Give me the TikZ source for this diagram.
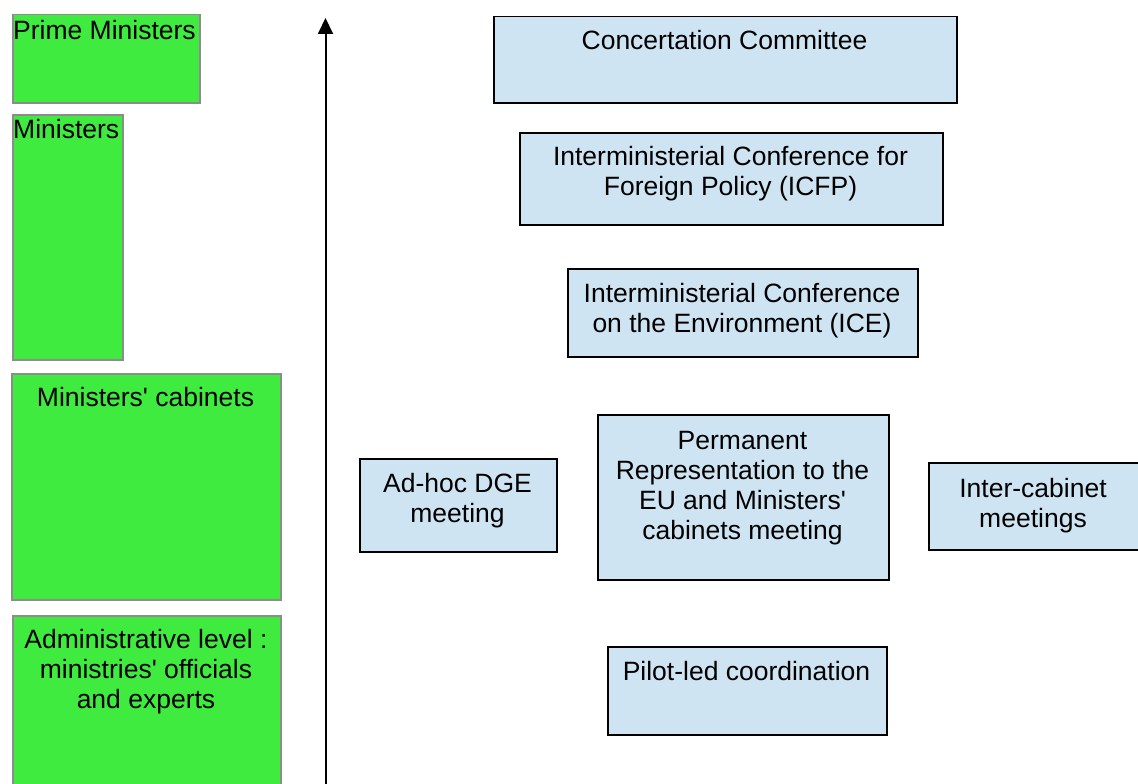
\documentclass[tikz,border=0pt]{standalone}
\usepackage{fontspec}
\setmainfont{Liberation Sans}
\usetikzlibrary{arrows.meta}
\definecolor{lvgreen}{RGB}{62,235,62}
\definecolor{lvgreenline}{RGB}{140,140,140}
\definecolor{lvblue}{RGB}{207,228,242}
\tikzset{
  gbox/.style={draw=lvgreenline, line width=1.5pt, fill=lvgreen, rectangle, inner sep=0pt, anchor=north west},
  bbox/.style={draw=black, line width=1.5pt, fill=lvblue, rectangle, inner sep=0pt, anchor=north west},
  txt/.style={inner sep=0pt, align=center, font=\fontsize{26.5}{30}\selectfont, anchor=base},
  ltxt/.style={inner sep=0pt, font=\fontsize{26.5}{30}\selectfont, anchor=base west},
  axis/.style={line width=2pt, -{Triangle[width=15pt,length=16pt]}}
}
\newcommand{\ap}{\textquotesingle}
\begin{document}
\begin{tikzpicture}[x=1pt,y=-1pt]
\useasboundingbox (0,0) rectangle (1138,784);
% green level boxes
\node[gbox, minimum width=187pt, minimum height=88pt] (pm) at (12,14) {};
\node[gbox, minimum width=110pt, minimum height=245pt] (mi) at (12,114) {};
\node[gbox, minimum width=269pt, minimum height=226pt] (mc) at (11,373) {};
\node[gbox, minimum width=268pt, minimum height=200pt] (ad) at (12,615) {};
\node[ltxt] (tpm) at (13,40) {Prime Ministers};
\node[ltxt] (tmi) at (13,138) {Ministers};
\node[txt] (tmc) at (145.5,406) {Ministers\ap{} cabinets};
\node[txt] (tad) at (146,708) {Administrative level :\\ministries\ap{} officials\\and experts};
% axis
\coordinate (axb) at (325.5,790);
\coordinate (axt) at (325.5,18);
\draw[axis] (axb) -- (axt);
% blue boxes
\node[bbox, minimum width=463pt, minimum height=86pt] (cc) at (493,16) {};
\node[bbox, minimum width=423pt, minimum height=92pt] (icfp) at (519,132) {};
\node[bbox, minimum width=350pt, minimum height=88pt] (ice) at (567,268) {};
\node[bbox, minimum width=197pt, minimum height=93pt] (dge) at (359,458) {};
\node[bbox, minimum width=291pt, minimum height=165pt] (prep) at (597,414) {};
\node[bbox, minimum width=212pt, minimum height=87pt] (icab) at (928,462) {};
\node[bbox, minimum width=279pt, minimum height=88pt] (pilot) at (607,646) {};
\node[txt] (tcc) at (724.5,50) {Concertation Committee};
\node[txt] (ticfp) at (730.5,195) {Interministerial Conference for\\Foreign Policy (ICFP)};
\node[txt] (tice) at (742,332) {Interministerial Conference\\on the Environment (ICE)};
\node[txt] (tdge) at (457.5,522) {Ad-hoc DGE\\meeting};
\node[txt] (tprep) at (742.5,539) {Permanent\\Representation to the\\EU and Ministers\ap\\cabinets meeting};
\node[txt] (ticab) at (1033,527) {Inter-cabinet\\meetings};
\node[txt] (tpilot) at (746.5,680) {Pilot-led coordination};
\end{tikzpicture}
\end{document}
